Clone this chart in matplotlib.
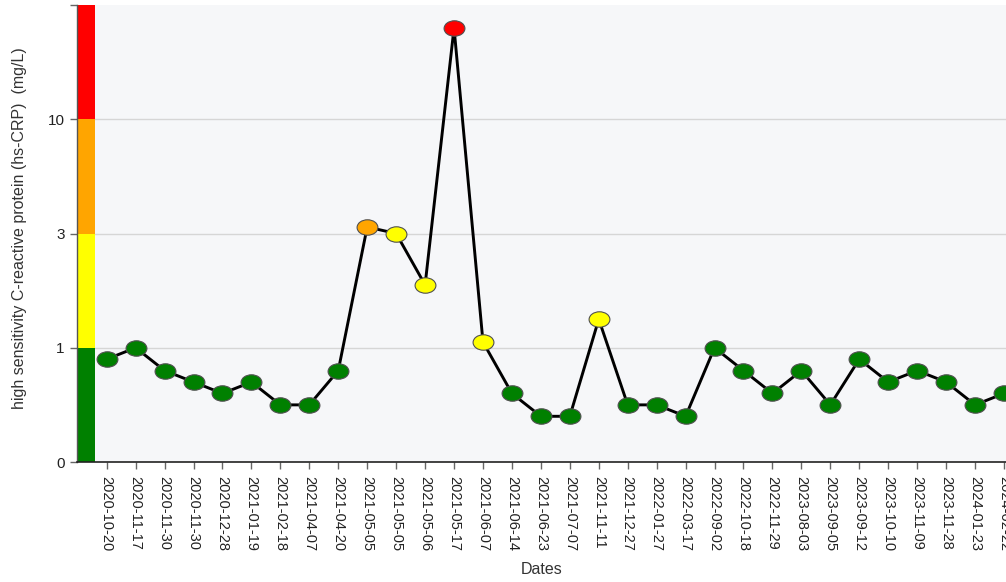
import numpy as np
import matplotlib
matplotlib.use("Agg")
import matplotlib.pyplot as plt
from matplotlib.path import Path
from matplotlib.transforms import Affine2D

dates = ["2020-10-20", "2020-11-17", "2020-11-30", "2020-11-30", "2020-12-28",
         "2021-01-19", "2021-02-18", "2021-04-07", "2021-04-20", "2021-05-05",
         "2021-05-05", "2021-05-06", "2021-05-17", "2021-06-07", "2021-06-14",
         "2021-06-23", "2021-07-07", "2021-11-11", "2021-12-27", "2022-01-27",
         "2022-03-17", "2022-09-02", "2022-10-18", "2022-11-29", "2023-08-03",
         "2023-09-05", "2023-09-12", "2023-10-10", "2023-11-09", "2023-11-28",
         "2024-01-23", "2024-02-22"]
crp = [0.9, 1.0, 0.8, 0.7, 0.6,
       0.7, 0.5, 0.5, 0.8, 3.4,
       3.0, 2.1, 18.0, 1.1, 0.6,
       0.4, 0.4, 1.5, 0.5, 0.5,
       0.4, 1.0, 0.8, 0.6, 0.8,
       0.5, 0.9, 0.7, 0.8, 0.7,
       0.5, 0.6]

band_edges = [0, 1, 3, 10, 20]
band_colors = ["#008000", "#ffff00", "#ffa500", "#ff0000"]
ytick_vals = [0, 1, 3, 10, 20]
ytick_labels = ["0", "1", "3", "10", ""]

plt.rcParams['font.family'] = ['Liberation Sans', 'DejaVu Sans']

pos = np.arange(len(band_edges), dtype=float)

def fwd(v):
    return np.interp(v, band_edges, pos)

def inv(p):
    return np.interp(p, pos, band_edges)

def color_for(v):
    for i in range(len(band_colors)):
        if v <= band_edges[i + 1]:
            return band_colors[i]
    return band_colors[-1]

W, H = 1006, 582
fig = plt.figure(figsize=(W / 100, H / 100), dpi=100)
left, right, top, bottom = 77, 1006, 5, 462
ax = fig.add_axes([left / W, 1 - bottom / H, (right - left) / W, (bottom - top) / H])
ax.set_facecolor("#f6f7f9")
ax.set_yscale('function', functions=(fwd, inv))
ax.set_ylim(band_edges[0], band_edges[-1])

x = np.arange(len(dates))
step_px = (1004 - 106.7) / (len(dates) - 1)
ax.set_xlim(-(106.7 - left) / step_px, (len(dates) - 1) + (right - 1004) / step_px)

bar_frac = (95 - left) / (right - left)
for i, c in enumerate(band_colors):
    ax.axhspan(band_edges[i], band_edges[i + 1], xmin=0, xmax=bar_frac, color=c, lw=0, zorder=1)

for v in ytick_vals[1:-1]:
    ax.axhline(v, color="#d6d6d6", lw=1.0, zorder=0.5)

# ellipse marker
circ = Path.unit_circle()
ell = Affine2D().scale(1.35, 1.0).transform_path(circ)

ax.plot(x, crp, color="black", lw=2.1, zorder=3)
for xi, v in zip(x, crp):
    ax.plot(xi, v, marker=ell, markersize=15, markerfacecolor=color_for(v),
            markeredgecolor="#505050", markeredgewidth=0.8, ls="none", zorder=4,
            clip_on=False)

ax.set_yticks(ytick_vals)
ax.set_yticklabels(ytick_labels)
ax.set_xticks(x)
ax.set_xticklabels(dates, rotation=270, ha="center", va="top")
ax.tick_params(axis="y", length=5, width=1, color="#666666", labelsize=11, pad=4, labelcolor="#222222")
ax.tick_params(axis="x", length=5, width=1, color="#666666", labelsize=10.5, pad=5, labelcolor="#222222")

for s in ["top", "right"]:
    ax.spines[s].set_visible(False)
ax.spines["left"].set_color("#555555")
ax.spines["left"].set_linewidth(1.0)
ax.spines["bottom"].set_color("#222222")
ax.spines["bottom"].set_linewidth(1.2)

ax.set_xlabel("Dates", fontsize=11.5, color="#333333", labelpad=8)
ax.set_ylabel("high sensitivity C-reactive protein (hs-CRP)  (mg/L)", fontsize=11.5,
              color="#333333")
ax.yaxis.set_label_coords((27 - left) / (right - left), (bottom - 228) / (bottom - top))

fig.savefig("out.png", dpi=100)
